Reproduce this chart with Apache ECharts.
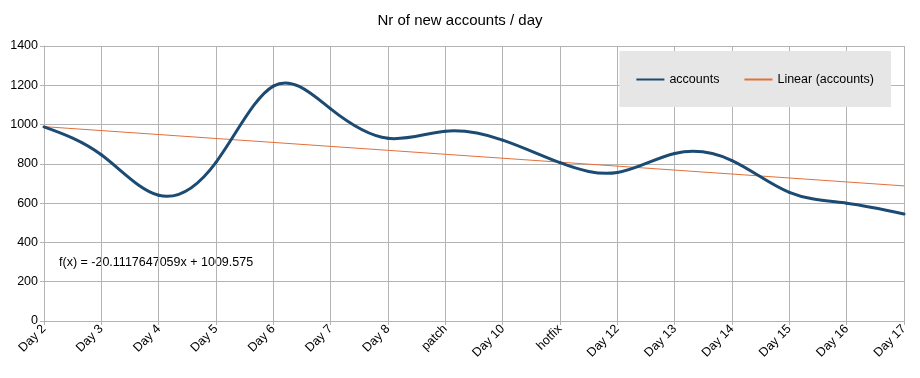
<!DOCTYPE html>
<html>
<head>
<meta charset="utf-8">
<script src="https://cdn.jsdelivr.net/npm/echarts@6/dist/echarts.min.js"></script>
<style>
  html, body { margin: 0; padding: 0; background: #fff; }
  #chart { width: 920px; height: 378px; }
</style>
</head>
<body>
<div id="chart"></div>
<script>
const days = ['Day 2', 'Day 3', 'Day 4', 'Day 5', 'Day 6', 'Day 7', 'Day 8', 'patch',
  'Day 10', 'hotfix', 'Day 12', 'Day 13', 'Day 14', 'Day 15', 'Day 16', 'Day 17']
const accounts = [988, 846, 640, 808, 1196, 1080, 930, 966, 921, 806, 756, 853, 817, 655, 600, 545]
// trend line end points
const trendEnds = [[0, 989.5], [15, 687.8]]
const trendLabel = 'f(x) = -20.1117647059x + 1009.575'
const yTicks = [0, 200, 400, 600, 800, 1000, 1200, 1400]

const font = '"Liberation Sans", Arial, sans-serif'
const lineColor = '#1b4b73'
const trendColor = '#e2703a'

// natural cubic spline (like the office chart), second derivatives per point
function splineM(y) {
  const n = y.length
  const M = new Array(n).fill(0)
  if (n < 3) return M
  const a = [], b = [], c = [], d = []
  for (let i = 1; i < n - 1; i++) {
    a.push(1); b.push(4); c.push(1)
    d.push(6 * (y[i + 1] - 2 * y[i] + y[i - 1]))
  }
  const m = d.length
  for (let i = 1; i < m; i++) {
    const w = a[i] / b[i - 1]
    b[i] -= w * c[i - 1]
    d[i] -= w * d[i - 1]
  }
  const x = new Array(m)
  x[m - 1] = d[m - 1] / b[m - 1]
  for (let i = m - 2; i >= 0; i--) x[i] = (d[i] - c[i] * x[i + 1]) / b[i]
  for (let i = 0; i < m; i++) M[i + 1] = x[i]
  return M
}
const M = splineM(accounts)

function renderSpline(params, api) {
  const i = params.dataIndex
  if (i >= accounts.length - 1) return null
  const y0 = accounts[i], y1 = accounts[i + 1]
  const s0 = (y1 - y0) - (2 * M[i] + M[i + 1]) / 6
  const s1 = (y1 - y0) + (M[i] + 2 * M[i + 1]) / 6
  const p0 = api.coord([i, y0])
  const p1 = api.coord([i + 1, y1])
  const py = (api.coord([i, 0])[1] - api.coord([i, 1000])[1]) / 1000
  const dx = p1[0] - p0[0]
  return {
    type: 'bezierCurve',
    shape: {
      x1: p0[0], y1: p0[1], x2: p1[0], y2: p1[1],
      cpx1: p0[0] + dx / 3, cpy1: p0[1] - s0 * py / 3,
      cpx2: p1[0] - dx / 3, cpy2: p1[1] + s1 * py / 3,
    },
    style: { stroke: lineColor, lineWidth: 3, fill: null, lineCap: 'round' },
  }
}

const chart = echarts.init(document.getElementById('chart'), null, { renderer: 'canvas' })

chart.setOption({
  animation: false,
  backgroundColor: '#fff',
  textStyle: { fontFamily: font },
  title: {
    text: 'Nr of new accounts / day', left: 'center', top: 8,
    textStyle: { fontFamily: font, fontSize: 15, fontWeight: 'normal', color: '#000' },
  },
  legend: {
    right: 29, top: 51, padding: [22, 17, 21, 17],
    backgroundColor: '#e6e6e6',
    itemWidth: 28, itemHeight: 2, itemGap: 25,
    textStyle: { fontFamily: font, fontSize: 12.5, color: '#000' },
    data: [
      { name: 'accounts', icon: 'rect', itemStyle: { color: lineColor } },
      { name: 'Linear (accounts)', icon: 'rect', itemStyle: { color: trendColor } },
    ],
  },
  grid: { left: 44, right: 16, top: 46, bottom: 57 },
  xAxis: {
    type: 'category', data: days, boundaryGap: false,
    axisLine: { lineStyle: { color: '#b3b3b3' } },
    axisTick: { show: true, length: 4, lineStyle: { color: '#b3b3b3' } },
    axisLabel: { rotate: 45, margin: 6, fontFamily: font, fontSize: 12.5, color: '#000', interval: 0 },
    splitLine: { show: true, lineStyle: { color: '#b3b3b3' } },
  },
  yAxis: {
    type: 'value', min: yTicks[0], max: yTicks[yTicks.length - 1], interval: 200,
    axisLine: { show: true, lineStyle: { color: '#b3b3b3' } },
    axisTick: { show: true, length: 4, lineStyle: { color: '#b3b3b3' } },
    axisLabel: { margin: 6, fontFamily: font, fontSize: 12.5, color: '#000', formatter: v => String(v) },
    splitLine: { lineStyle: { color: '#b3b3b3' } },
  },
  series: [
    {
      name: 'accounts', type: 'custom', renderItem: renderSpline,
      data: accounts.map((v, i) => [i, v]),
      encode: { x: 0, y: 1 }, z: 3,
      itemStyle: { color: lineColor },
    },
    {
      name: 'Linear (accounts)', type: 'line', data: trendEnds,
      symbol: 'none', z: 2,
      lineStyle: { color: trendColor, width: 1 },
      itemStyle: { color: trendColor },
    },
  ],
  graphic: [{
    type: 'text', left: 59, top: 256,
    style: { text: trendLabel, font: '12.5px ' + font, fill: '#000' },
  }],
})
</script>
</body>
</html>
